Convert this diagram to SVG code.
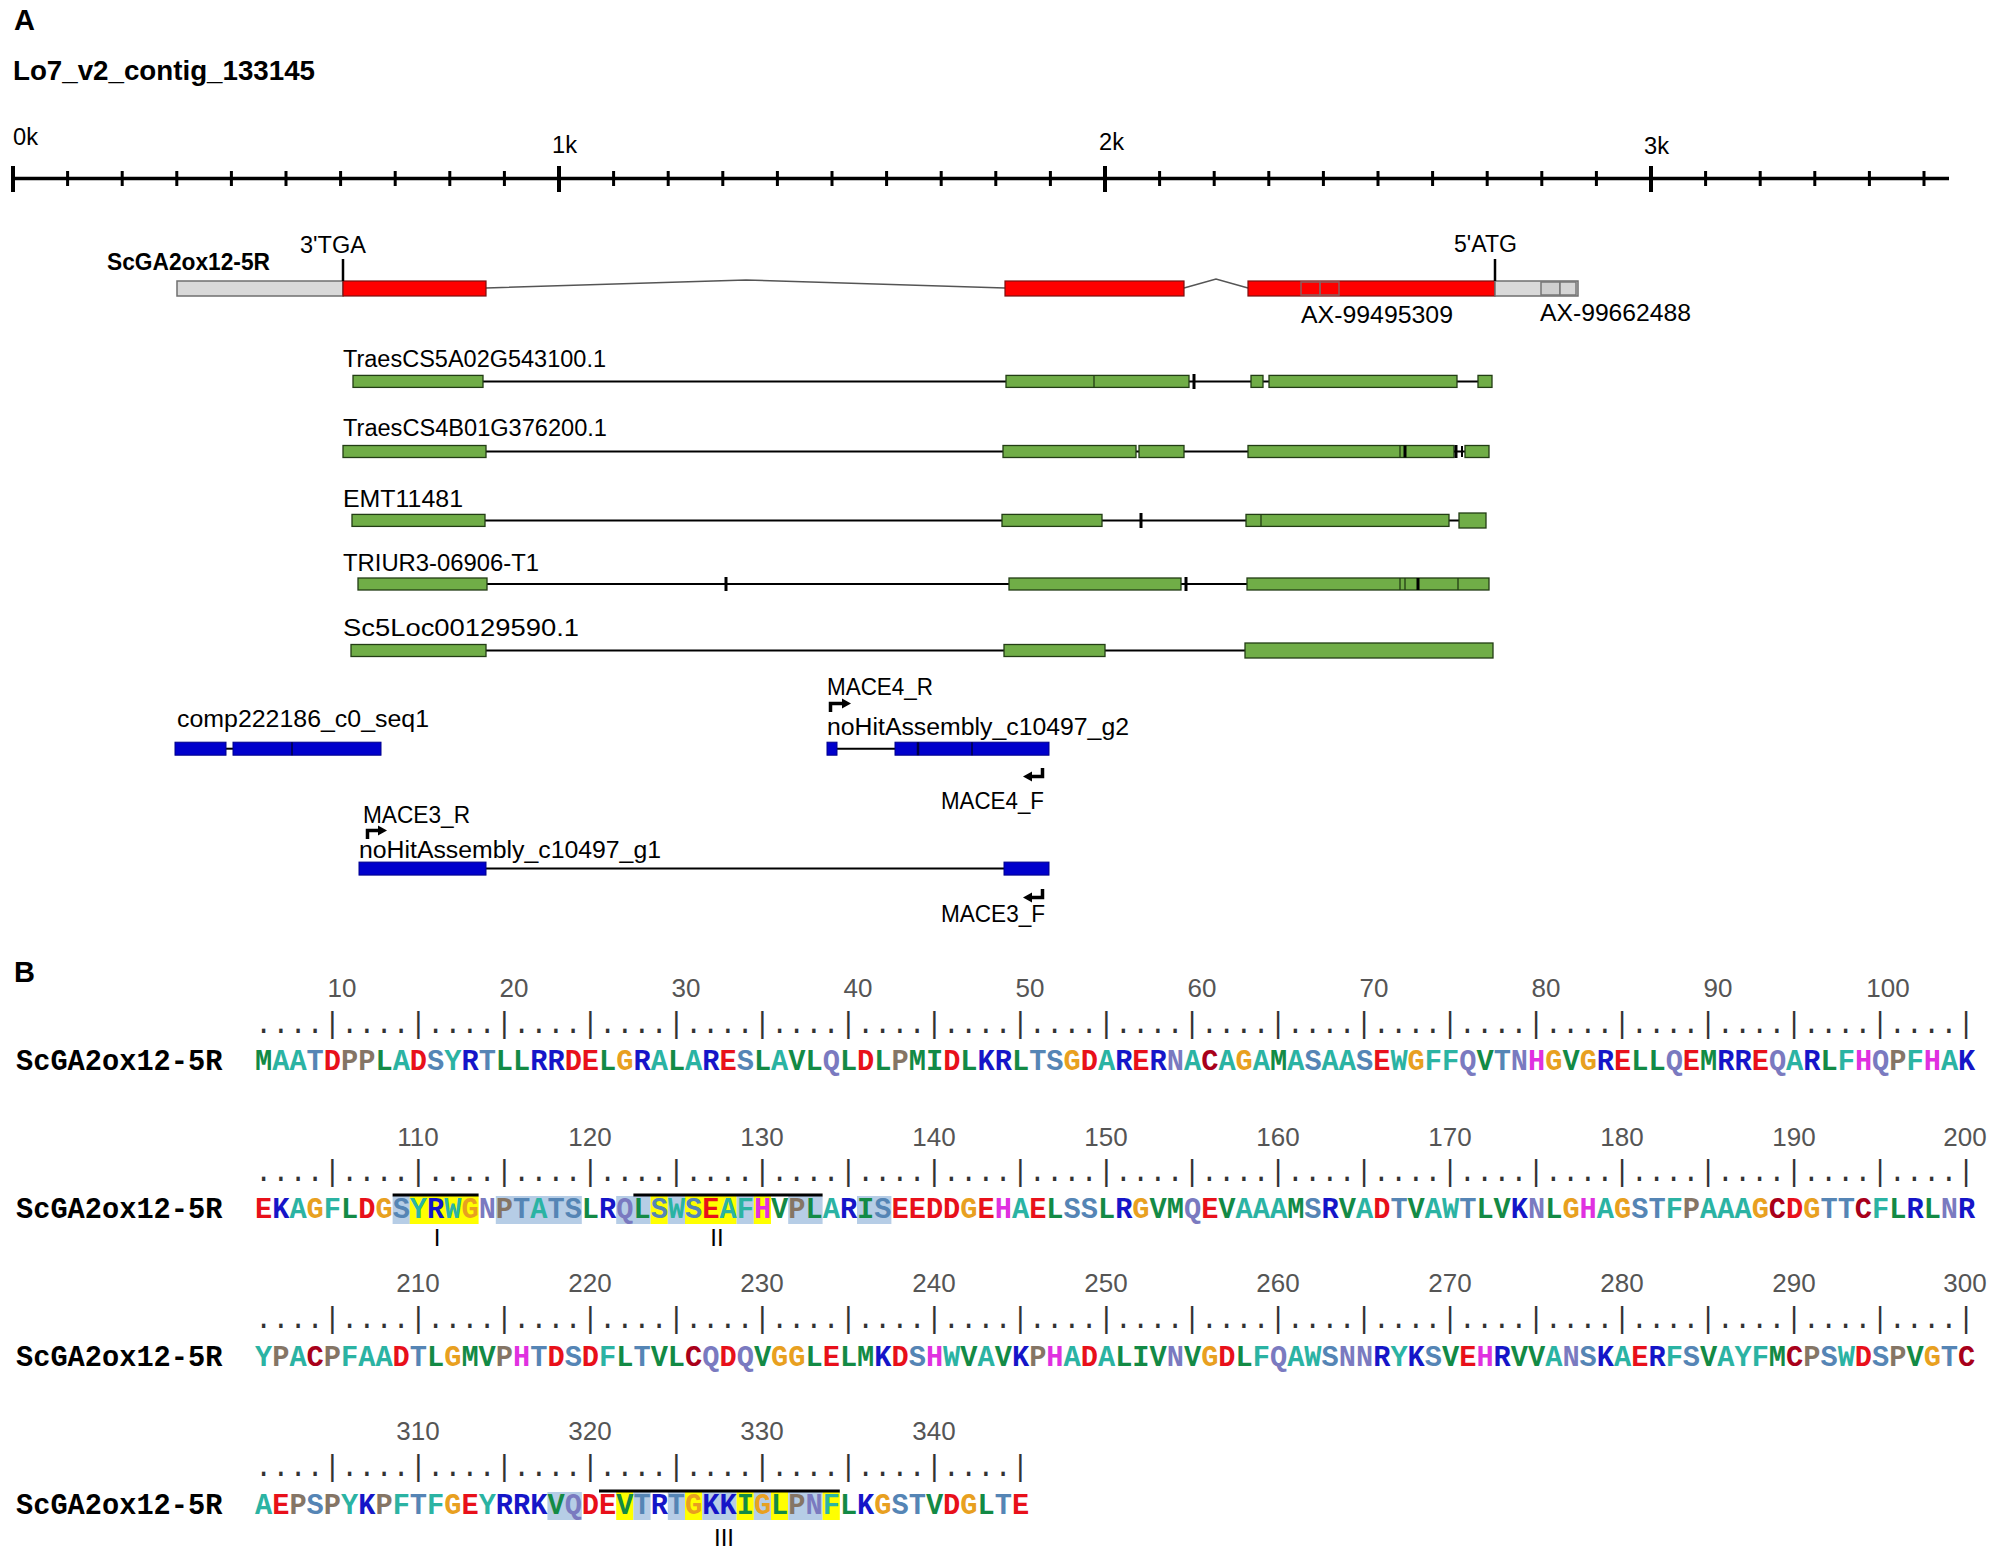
<svg xmlns="http://www.w3.org/2000/svg" width="2000" height="1558" viewBox="0 0 2000 1558">
<style>
.lab{font-family:"Liberation Sans",Arial,sans-serif;font-size:23px;fill:#000}
.bd{font-weight:bold}
.seq{font-family:"Liberation Mono","Courier New",monospace;font-size:28.67px;font-weight:bold}
.dots{font-family:"Liberation Mono","Courier New",monospace;font-size:28.67px;fill:#333}
.num{font-family:"Liberation Sans",Arial,sans-serif;font-size:26px;fill:#555;text-anchor:middle}
.rom{font-family:"Liberation Sans",Arial,sans-serif;font-size:24px;fill:#000;text-anchor:middle}
.grey{fill:#d9d9d9;stroke:#6f6f6f;stroke-width:1.5}
.red{fill:#ff0000;stroke:#7a1010;stroke-width:1.2}
.grn{fill:#70ad47;stroke:#223d14;stroke-width:1.3}
.blu{fill:#0000cc;stroke:#00008b;stroke-width:1}
.intr{fill:none;stroke:#000;stroke-width:2}
.gint{fill:none;stroke:#555;stroke-width:1.6}
.tk{stroke:#000;stroke-width:3}
.div{stroke:#223d14;stroke-width:1.3}
.g{fill:#138a45}.t{fill:#2bb3a3}.s{fill:#5585b5}.r{fill:#e8101a}.w{fill:#857565}.b{fill:#1515c8}.o{fill:#e8a020}.p{fill:#7a7ac0}.c{fill:#a8001a}.m{fill:#e030e0}
.hy{fill:#ffff00}.hb{fill:#b6cde6}
</style>

<text x="14" y="30" class="lab bd" style="font-size:29px">A</text>
<text x="13" y="80" class="lab bd" style="font-size:28px" textLength="302" lengthAdjust="spacingAndGlyphs">Lo7_v2_contig_133145</text>

<g id="scale">
<line x1="13" y1="178.6" x2="1949" y2="178.6" stroke="#000" stroke-width="3.5"/>
<path d="M13 166V192M559 166V192M1105 166V192M1651 166V192" stroke="#000" stroke-width="4"/>
<path d="M67.6 171V186M122.2 171V186M176.8 171V186M231.4 171V186M286 171V186M340.6 171V186M395.2 171V186M449.8 171V186M504.4 171V186M613.6 171V186M668.2 171V186M722.8 171V186M777.4 171V186M832 171V186M886.6 171V186M941.2 171V186M995.8 171V186M1050.4 171V186M1159.6 171V186M1214.2 171V186M1268.8 171V186M1323.4 171V186M1378 171V186M1432.6 171V186M1487.2 171V186M1541.8 171V186M1596.4 171V186M1705.6 171V186M1760.2 171V186M1814.8 171V186M1869.4 171V186M1924 171V186" stroke="#000" stroke-width="3"/>
<text x="13" y="145" class="lab" textLength="25" lengthAdjust="spacingAndGlyphs">0k</text>
<text x="552" y="153" class="lab" textLength="25" lengthAdjust="spacingAndGlyphs">1k</text>
<text x="1099" y="150" class="lab" textLength="25" lengthAdjust="spacingAndGlyphs">2k</text>
<text x="1644" y="154" class="lab" textLength="25" lengthAdjust="spacingAndGlyphs">3k</text>
</g>

<g id="ScGA2ox12-5R">
<text x="107" y="270" class="lab bd" textLength="163" lengthAdjust="spacingAndGlyphs">ScGA2ox12-5R</text>
<text x="300" y="253" class="lab" textLength="66" lengthAdjust="spacingAndGlyphs">3'TGA</text>
<text x="1454" y="252" class="lab" textLength="63" lengthAdjust="spacingAndGlyphs">5'ATG</text>
<polyline class="gint" points="486,288 746,280 1005,288"/>
<polyline class="gint" points="1184,288 1216,279 1248,288"/>
<rect class="grey" x="177" y="281" width="166" height="15"/>
<rect class="red" x="343" y="281" width="143" height="15"/>
<rect class="red" x="1005" y="281" width="179" height="15"/>
<rect class="red" x="1248" y="281" width="247" height="15"/>
<rect x="1301" y="282" width="19" height="13" fill="none" stroke="#8a6060" stroke-width="1.5"/>
<rect x="1320" y="282" width="19" height="13" fill="none" stroke="#8a6060" stroke-width="1.5"/>
<rect class="grey" x="1495" y="281" width="83" height="15"/>
<rect x="1541" y="282" width="19" height="13" fill="#cfcfcf" stroke="#777" stroke-width="1.5"/>
<rect x="1560" y="282" width="16" height="13" fill="#d6d6d6" stroke="#777" stroke-width="1.5"/>
<line x1="343" y1="259" x2="343" y2="281" stroke="#000" stroke-width="2.5"/>
<line x1="1495" y1="259" x2="1495" y2="281" stroke="#000" stroke-width="2.5"/>
<text x="1301" y="323" class="lab" textLength="152" lengthAdjust="spacingAndGlyphs">AX-99495309</text>
<text x="1540" y="321" class="lab" textLength="151" lengthAdjust="spacingAndGlyphs">AX-99662488</text>
</g>

<g id="TraesCS5A02G543100.1">
<text x="343" y="367" class="lab" textLength="263" lengthAdjust="spacingAndGlyphs">TraesCS5A02G543100.1</text>
<line class="intr" x1="483" y1="381.4" x2="1478" y2="381.4"/>
<rect class="grn" x="353" y="375.4" width="130" height="12"/>
<rect class="grn" x="1006" y="375.4" width="183" height="12"/>
<line class="div" x1="1094" y1="375.4" x2="1094" y2="387.4"/>
<line class="tk" x1="1194" y1="374" x2="1194" y2="389"/>
<rect class="grn" x="1251" y="375.4" width="12" height="12"/>
<rect class="grn" x="1269" y="375.4" width="188" height="12"/>
<rect class="grn" x="1478" y="375.4" width="14" height="12"/>
</g>

<g id="TraesCS4B01G376200.1">
<text x="343" y="436" class="lab" textLength="264" lengthAdjust="spacingAndGlyphs">TraesCS4B01G376200.1</text>
<line class="intr" x1="486" y1="451.5" x2="1465" y2="451.5"/>
<rect class="grn" x="343" y="445.5" width="143" height="12"/>
<rect class="grn" x="1003" y="445.5" width="133" height="12"/>
<rect class="grn" x="1139" y="445.5" width="45" height="12"/>
<rect class="grn" x="1248" y="445.5" width="206" height="12"/>
<line class="div" x1="1400" y1="445.5" x2="1400" y2="457.5"/>
<line class="tk" x1="1405" y1="445.5" x2="1405" y2="457.5"/>
<line class="tk" x1="1456" y1="445" x2="1456" y2="458"/>
<line x1="1462" y1="446" x2="1462" y2="457" stroke="#000" stroke-width="2"/>
<rect class="grn" x="1465" y="445.5" width="24" height="12"/>
</g>

<g id="EMT11481">
<text x="343" y="507" class="lab" textLength="120" lengthAdjust="spacingAndGlyphs">EMT11481</text>
<line class="intr" x1="485" y1="520.4" x2="1459" y2="520.4"/>
<rect class="grn" x="352" y="514.4" width="133" height="12"/>
<rect class="grn" x="1002" y="514.4" width="100" height="12"/>
<line class="tk" x1="1141" y1="513" x2="1141" y2="528"/>
<rect class="grn" x="1246" y="514.4" width="203" height="12"/>
<line class="div" x1="1261" y1="514.4" x2="1261" y2="526.4"/>
<rect class="grn" x="1459" y="513" width="27" height="15"/>
</g>

<g id="TRIUR3-06906-T1">
<text x="343" y="571" class="lab" textLength="196" lengthAdjust="spacingAndGlyphs">TRIUR3-06906-T1</text>
<line class="intr" x1="487" y1="584" x2="1247" y2="584"/>
<rect class="grn" x="358" y="578" width="129" height="12"/>
<line class="tk" x1="726" y1="577" x2="726" y2="591"/>
<rect class="grn" x="1009" y="578" width="172" height="12"/>
<line class="tk" x1="1186" y1="577" x2="1186" y2="591"/>
<rect class="grn" x="1247" y="578" width="242" height="12"/>
<line class="div" x1="1400" y1="578" x2="1400" y2="590" stroke-width="2"/>
<line class="div" x1="1405" y1="578" x2="1405" y2="590" stroke-width="2"/>
<line class="tk" x1="1418" y1="578" x2="1418" y2="590"/>
<line class="div" x1="1458" y1="578" x2="1458" y2="590" stroke-width="2"/>
</g>

<g id="Sc5Loc00129590.1">
<text x="343" y="636" class="lab" textLength="236" lengthAdjust="spacingAndGlyphs">Sc5Loc00129590.1</text>
<line class="intr" x1="486" y1="650.5" x2="1245" y2="650.5"/>
<rect class="grn" x="351" y="644.5" width="135" height="12"/>
<rect class="grn" x="1004" y="644.5" width="101" height="12"/>
<rect class="grn" x="1245" y="643" width="248" height="15"/>
</g>

<g id="comp222186_c0_seq1">
<text x="177" y="727" class="lab" textLength="252" lengthAdjust="spacingAndGlyphs">comp222186_c0_seq1</text>
<line class="intr" x1="226" y1="748.7" x2="233" y2="748.7"/>
<rect class="blu" x="175" y="742.2" width="51" height="13"/>
<rect class="blu" x="233" y="742.2" width="148" height="13"/>
<line x1="292" y1="742.2" x2="292" y2="755.2" stroke="#000040" stroke-width="1.5"/>
</g>

<g id="noHitAssembly_c10497_g2">
<text x="827" y="695" class="lab" textLength="106" lengthAdjust="spacingAndGlyphs">MACE4_R</text>
<text x="827" y="735" class="lab" textLength="302" lengthAdjust="spacingAndGlyphs">noHitAssembly_c10497_g2</text>
<line class="intr" x1="837" y1="748.7" x2="895" y2="748.7"/>
<rect class="blu" x="827" y="742.2" width="10" height="13"/>
<rect class="blu" x="895" y="742.2" width="154" height="13"/>
<line x1="918" y1="742.2" x2="918" y2="755.2" stroke="#000040" stroke-width="2.5"/>
<line x1="972" y1="742.2" x2="972" y2="755.2" stroke="#000040" stroke-width="1.5"/>
<text x="941" y="809" class="lab" textLength="103" lengthAdjust="spacingAndGlyphs">MACE4_F</text>
</g>

<g id="noHitAssembly_c10497_g1">
<text x="363" y="823" class="lab" textLength="107" lengthAdjust="spacingAndGlyphs">MACE3_R</text>
<text x="359" y="858" class="lab" textLength="302" lengthAdjust="spacingAndGlyphs">noHitAssembly_c10497_g1</text>
<line class="intr" x1="486" y1="868.6" x2="1004" y2="868.6"/>
<rect class="blu" x="359" y="862.1" width="127" height="13"/>
<rect class="blu" x="1004" y="862.1" width="45" height="13"/>
<text x="941" y="922" class="lab" textLength="104" lengthAdjust="spacingAndGlyphs">MACE3_F</text>
</g>

<g id="primers" fill="none" stroke="#000" stroke-width="3.5">
<path d="M830.5 712V703.5H844"/><polygon points="842,698.5 851,703.5 842,708.5" fill="#000" stroke="none"/>
<path d="M1042.5 768V776.5H1031"/><polygon points="1032,771.5 1023,776.5 1032,781.5" fill="#000" stroke="none"/>
<path d="M367.5 839V830.5H380"/><polygon points="378,825.5 387,830.5 378,835.5" fill="#000" stroke="none"/>
<path d="M1042.5 889V897.5H1031"/><polygon points="1032,892.5 1023,897.5 1032,902.5" fill="#000" stroke="none"/>
</g>

<text x="14" y="982" class="lab bd" style="font-size:29px">B</text>

<g id="alignment">
<g id="row1">
<text class="num" lengthAdjust="spacingAndGlyphs"><tspan x="342" y="997">10</tspan><tspan x="514" y="997">20</tspan><tspan x="686" y="997">30</tspan><tspan x="858" y="997">40</tspan><tspan x="1030" y="997">50</tspan><tspan x="1202" y="997">60</tspan><tspan x="1374" y="997">70</tspan><tspan x="1546" y="997">80</tspan><tspan x="1718" y="997">90</tspan><tspan x="1888" y="997">100</tspan></text>
<text x="255" y="1033" class="dots">....|....|....|....|....|....|....|....|....|....|....|....|....|....|....|....|....|....|....|....|</text>
<text x="16" y="1070" class="seq">ScGA2ox12-5R</text>
<text x="255" y="1070" class="seq"><tspan class="g">M</tspan><tspan class="t">AA</tspan><tspan class="s">T</tspan><tspan class="r">D</tspan><tspan class="w">PP</tspan><tspan class="g">L</tspan><tspan class="t">A</tspan><tspan class="r">D</tspan><tspan class="s">S</tspan><tspan class="t">Y</tspan><tspan class="b">R</tspan><tspan class="s">T</tspan><tspan class="g">LL</tspan><tspan class="b">RR</tspan><tspan class="r">DE</tspan><tspan class="g">L</tspan><tspan class="o">G</tspan><tspan class="b">R</tspan><tspan class="t">A</tspan><tspan class="g">L</tspan><tspan class="t">A</tspan><tspan class="b">R</tspan><tspan class="r">E</tspan><tspan class="s">S</tspan><tspan class="g">L</tspan><tspan class="t">A</tspan><tspan class="g">VL</tspan><tspan class="p">Q</tspan><tspan class="g">L</tspan><tspan class="r">D</tspan><tspan class="g">L</tspan><tspan class="w">P</tspan><tspan class="g">MI</tspan><tspan class="r">D</tspan><tspan class="g">L</tspan><tspan class="b">KR</tspan><tspan class="g">L</tspan><tspan class="s">TS</tspan><tspan class="o">G</tspan><tspan class="r">D</tspan><tspan class="t">A</tspan><tspan class="b">R</tspan><tspan class="r">E</tspan><tspan class="b">R</tspan><tspan class="p">N</tspan><tspan class="t">A</tspan><tspan class="c">C</tspan><tspan class="t">A</tspan><tspan class="o">G</tspan><tspan class="t">A</tspan><tspan class="g">M</tspan><tspan class="t">A</tspan><tspan class="s">S</tspan><tspan class="t">AA</tspan><tspan class="s">S</tspan><tspan class="r">E</tspan><tspan class="t">W</tspan><tspan class="o">G</tspan><tspan class="t">FF</tspan><tspan class="p">Q</tspan><tspan class="g">V</tspan><tspan class="s">T</tspan><tspan class="p">N</tspan><tspan class="m">H</tspan><tspan class="o">G</tspan><tspan class="g">V</tspan><tspan class="o">G</tspan><tspan class="b">R</tspan><tspan class="r">E</tspan><tspan class="g">LL</tspan><tspan class="p">Q</tspan><tspan class="r">E</tspan><tspan class="g">M</tspan><tspan class="b">RR</tspan><tspan class="r">E</tspan><tspan class="p">Q</tspan><tspan class="t">A</tspan><tspan class="b">R</tspan><tspan class="g">L</tspan><tspan class="t">F</tspan><tspan class="m">H</tspan><tspan class="p">Q</tspan><tspan class="w">P</tspan><tspan class="t">F</tspan><tspan class="m">H</tspan><tspan class="t">A</tspan><tspan class="b">K</tspan></text>
</g>

<g id="row2">
<text class="num" lengthAdjust="spacingAndGlyphs"><tspan x="418" y="1146">110</tspan><tspan x="590" y="1146">120</tspan><tspan x="762" y="1146">130</tspan><tspan x="934" y="1146">140</tspan><tspan x="1106" y="1146">150</tspan><tspan x="1278" y="1146">160</tspan><tspan x="1450" y="1146">170</tspan><tspan x="1622" y="1146">180</tspan><tspan x="1794" y="1146">190</tspan><tspan x="1965" y="1146">200</tspan></text>
<text x="255" y="1181" class="dots">....|....|....|....|....|....|....|....|....|....|....|....|....|....|....|....|....|....|....|....|</text>
<rect class="hb" x="392.6" y="1196" width="17.2" height="28"/>
<rect class="hy" x="409.8" y="1196" width="68.8" height="28"/>
<rect class="hb" x="495.8" y="1196" width="86" height="28"/>
<rect class="hb" x="616.2" y="1196" width="34.4" height="28"/>
<rect class="hy" x="650.6" y="1196" width="17.2" height="28"/>
<rect class="hb" x="667.8" y="1196" width="17.2" height="28"/>
<rect class="hy" x="685" y="1196" width="51.6" height="28"/>
<rect class="hb" x="736.6" y="1196" width="17.2" height="28"/>
<rect class="hy" x="753.8" y="1196" width="17.2" height="28"/>
<rect class="hb" x="788.2" y="1196" width="34.4" height="28"/>
<rect class="hb" x="857" y="1196" width="34.4" height="28"/>
<line x1="392.6" y1="1195" x2="478.6" y2="1195" stroke="#000" stroke-width="3"/>
<line x1="633.4" y1="1195" x2="822.6" y2="1195" stroke="#000" stroke-width="3"/>
<text x="16" y="1218" class="seq">ScGA2ox12-5R</text>
<text x="255" y="1218" class="seq"><tspan class="r">E</tspan><tspan class="b">K</tspan><tspan class="t">A</tspan><tspan class="o">G</tspan><tspan class="t">F</tspan><tspan class="g">L</tspan><tspan class="r">D</tspan><tspan class="o">G</tspan><tspan class="s">S</tspan><tspan class="t">Y</tspan><tspan class="b">R</tspan><tspan class="t">W</tspan><tspan class="o">G</tspan><tspan class="p">N</tspan><tspan class="w">P</tspan><tspan class="s">T</tspan><tspan class="t">A</tspan><tspan class="s">TS</tspan><tspan class="g">L</tspan><tspan class="b">R</tspan><tspan class="p">Q</tspan><tspan class="g">L</tspan><tspan class="s">S</tspan><tspan class="t">W</tspan><tspan class="s">S</tspan><tspan class="r">E</tspan><tspan class="t">AF</tspan><tspan class="m">H</tspan><tspan class="g">V</tspan><tspan class="w">P</tspan><tspan class="g">L</tspan><tspan class="t">A</tspan><tspan class="b">R</tspan><tspan class="g">I</tspan><tspan class="s">S</tspan><tspan class="r">EEDD</tspan><tspan class="o">G</tspan><tspan class="r">E</tspan><tspan class="m">H</tspan><tspan class="t">A</tspan><tspan class="r">E</tspan><tspan class="g">L</tspan><tspan class="s">SS</tspan><tspan class="g">L</tspan><tspan class="b">R</tspan><tspan class="o">G</tspan><tspan class="g">VM</tspan><tspan class="p">Q</tspan><tspan class="r">E</tspan><tspan class="g">V</tspan><tspan class="t">AAA</tspan><tspan class="g">M</tspan><tspan class="s">S</tspan><tspan class="b">R</tspan><tspan class="g">V</tspan><tspan class="t">A</tspan><tspan class="r">D</tspan><tspan class="s">T</tspan><tspan class="g">V</tspan><tspan class="t">AW</tspan><tspan class="s">T</tspan><tspan class="g">LV</tspan><tspan class="b">K</tspan><tspan class="p">N</tspan><tspan class="g">L</tspan><tspan class="o">G</tspan><tspan class="m">H</tspan><tspan class="t">A</tspan><tspan class="o">G</tspan><tspan class="s">ST</tspan><tspan class="t">F</tspan><tspan class="w">P</tspan><tspan class="t">AAA</tspan><tspan class="o">G</tspan><tspan class="c">C</tspan><tspan class="r">D</tspan><tspan class="o">G</tspan><tspan class="s">TT</tspan><tspan class="c">C</tspan><tspan class="t">F</tspan><tspan class="g">L</tspan><tspan class="b">R</tspan><tspan class="g">L</tspan><tspan class="p">N</tspan><tspan class="b">R</tspan></text>
<text x="437" y="1246" class="rom">I</text>
<text x="717" y="1246" class="rom">II</text>
</g>

<g id="row3">
<text class="num" lengthAdjust="spacingAndGlyphs"><tspan x="418" y="1292">210</tspan><tspan x="590" y="1292">220</tspan><tspan x="762" y="1292">230</tspan><tspan x="934" y="1292">240</tspan><tspan x="1106" y="1292">250</tspan><tspan x="1278" y="1292">260</tspan><tspan x="1450" y="1292">270</tspan><tspan x="1622" y="1292">280</tspan><tspan x="1794" y="1292">290</tspan><tspan x="1965" y="1292">300</tspan></text>
<text x="255" y="1328" class="dots">....|....|....|....|....|....|....|....|....|....|....|....|....|....|....|....|....|....|....|....|</text>
<text x="16" y="1366" class="seq">ScGA2ox12-5R</text>
<text x="255" y="1366" class="seq"><tspan class="t">Y</tspan><tspan class="w">P</tspan><tspan class="t">A</tspan><tspan class="c">C</tspan><tspan class="w">P</tspan><tspan class="t">FAA</tspan><tspan class="r">D</tspan><tspan class="s">T</tspan><tspan class="g">L</tspan><tspan class="o">G</tspan><tspan class="g">MV</tspan><tspan class="w">P</tspan><tspan class="m">H</tspan><tspan class="s">T</tspan><tspan class="r">D</tspan><tspan class="s">S</tspan><tspan class="r">D</tspan><tspan class="t">F</tspan><tspan class="g">L</tspan><tspan class="s">T</tspan><tspan class="g">VL</tspan><tspan class="c">C</tspan><tspan class="p">Q</tspan><tspan class="r">D</tspan><tspan class="p">Q</tspan><tspan class="g">V</tspan><tspan class="o">GG</tspan><tspan class="g">L</tspan><tspan class="r">E</tspan><tspan class="g">LM</tspan><tspan class="b">K</tspan><tspan class="r">D</tspan><tspan class="s">S</tspan><tspan class="m">H</tspan><tspan class="t">W</tspan><tspan class="g">V</tspan><tspan class="t">A</tspan><tspan class="g">V</tspan><tspan class="b">K</tspan><tspan class="w">P</tspan><tspan class="m">H</tspan><tspan class="t">A</tspan><tspan class="r">D</tspan><tspan class="t">A</tspan><tspan class="g">LIV</tspan><tspan class="p">N</tspan><tspan class="g">V</tspan><tspan class="o">G</tspan><tspan class="r">D</tspan><tspan class="g">L</tspan><tspan class="t">F</tspan><tspan class="p">Q</tspan><tspan class="t">AW</tspan><tspan class="s">S</tspan><tspan class="p">NN</tspan><tspan class="b">R</tspan><tspan class="t">Y</tspan><tspan class="b">K</tspan><tspan class="s">S</tspan><tspan class="g">V</tspan><tspan class="r">E</tspan><tspan class="m">H</tspan><tspan class="b">R</tspan><tspan class="g">VV</tspan><tspan class="t">A</tspan><tspan class="p">N</tspan><tspan class="s">S</tspan><tspan class="b">K</tspan><tspan class="t">A</tspan><tspan class="r">E</tspan><tspan class="b">R</tspan><tspan class="t">F</tspan><tspan class="s">S</tspan><tspan class="g">V</tspan><tspan class="t">AYF</tspan><tspan class="g">M</tspan><tspan class="c">C</tspan><tspan class="w">P</tspan><tspan class="s">S</tspan><tspan class="t">W</tspan><tspan class="r">D</tspan><tspan class="s">S</tspan><tspan class="w">P</tspan><tspan class="g">V</tspan><tspan class="o">G</tspan><tspan class="s">T</tspan><tspan class="c">C</tspan></text>
</g>

<g id="row4">
<text class="num" lengthAdjust="spacingAndGlyphs"><tspan x="418" y="1440">310</tspan><tspan x="590" y="1440">320</tspan><tspan x="762" y="1440">330</tspan><tspan x="934" y="1440">340</tspan></text>
<text x="255" y="1476" class="dots">....|....|....|....|....|....|....|....|....|</text>
<rect class="hb" x="547.4" y="1492" width="34.4" height="28"/>
<rect class="hy" x="616.2" y="1492" width="17.2" height="28"/>
<rect class="hb" x="633.4" y="1492" width="17.2" height="28"/>
<rect class="hb" x="667.8" y="1492" width="17.2" height="28"/>
<rect class="hy" x="685" y="1492" width="17.2" height="28"/>
<rect class="hb" x="702.2" y="1492" width="34.4" height="28"/>
<rect class="hy" x="736.6" y="1492" width="17.2" height="28"/>
<rect class="hb" x="753.8" y="1492" width="17.2" height="28"/>
<rect class="hy" x="771" y="1492" width="17.2" height="28"/>
<rect class="hb" x="788.2" y="1492" width="34.4" height="28"/>
<rect class="hy" x="822.6" y="1492" width="17.2" height="28"/>
<line x1="599" y1="1491" x2="839.8" y2="1491" stroke="#000" stroke-width="3"/>
<text x="16" y="1514" class="seq">ScGA2ox12-5R</text>
<text x="255" y="1514" class="seq"><tspan class="t">A</tspan><tspan class="r">E</tspan><tspan class="w">P</tspan><tspan class="s">S</tspan><tspan class="w">P</tspan><tspan class="t">Y</tspan><tspan class="b">K</tspan><tspan class="w">P</tspan><tspan class="t">F</tspan><tspan class="s">T</tspan><tspan class="t">F</tspan><tspan class="o">G</tspan><tspan class="r">E</tspan><tspan class="t">Y</tspan><tspan class="b">RRK</tspan><tspan class="g">V</tspan><tspan class="p">Q</tspan><tspan class="r">DE</tspan><tspan class="g">V</tspan><tspan class="s">T</tspan><tspan class="b">R</tspan><tspan class="s">T</tspan><tspan class="o">G</tspan><tspan class="b">KK</tspan><tspan class="g">I</tspan><tspan class="o">G</tspan><tspan class="g">L</tspan><tspan class="w">P</tspan><tspan class="p">N</tspan><tspan class="t">F</tspan><tspan class="g">L</tspan><tspan class="b">K</tspan><tspan class="o">G</tspan><tspan class="s">ST</tspan><tspan class="g">V</tspan><tspan class="r">D</tspan><tspan class="o">G</tspan><tspan class="g">L</tspan><tspan class="s">T</tspan><tspan class="r">E</tspan></text>
<text x="724" y="1546" class="rom">III</text>
</g>
</g>
</svg>
